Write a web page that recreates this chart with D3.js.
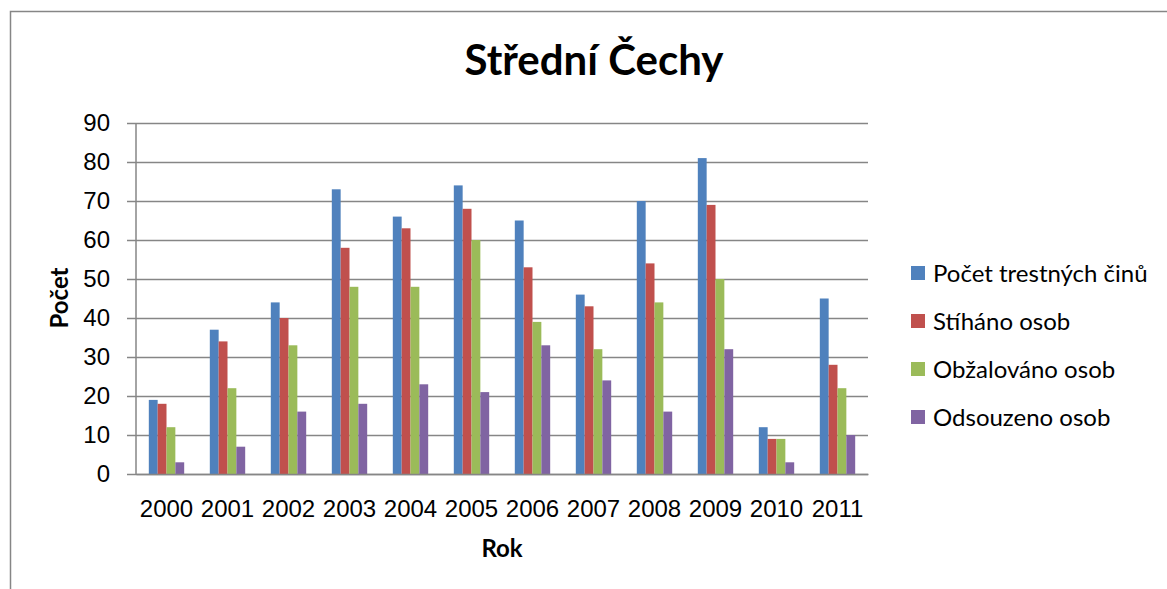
<!DOCTYPE html>
<html>
<head>
<meta charset="utf-8">
<script src="https://cdn.jsdelivr.net/npm/d3@7"></script>
<style>
  body { margin: 0; background: #fff; }
  svg { font-family: Lato, "Open Sans", sans-serif; }
</style>
</head>
<body>
<div id="chart"></div>
<script>
// data
const years = ["2000", "2001", "2002", "2003", "2004", "2005", "2006", "2007", "2008", "2009", "2010", "2011"];
const seriesNames = ["Počet trestných činů", "Stíháno osob", "Obžalováno osob", "Odsouzeno osob"];
const pocetCinu = [19, 37, 44, 73, 66, 74, 65, 46, 70, 81, 12, 45];
const stihano = [18, 34, 40, 58, 63, 68, 53, 43, 54, 69, 9, 28];
const obzalovano = [12, 22, 33, 48, 48, 60, 39, 32, 44, 50, 9, 22];
const odsouzeno = [3, 7, 16, 18, 23, 21, 33, 24, 16, 32, 3, 10];
const yTicks = [0, 10, 20, 30, 40, 50, 60, 70, 80, 90];
const colors = ["#4F81BD", "#C0504D", "#9BBB59", "#8064A2"];

const allSeries = [pocetCinu, stihano, obzalovano, odsouzeno];

const width = 1167, height = 589;
const plotLeft = 136, plotRight = 868, plotTop = 123, plotBottom = 474;

const svg = d3.select("#chart").append("svg")
  .attr("width", width)
  .attr("height", height);

// chart frame
svg.append("rect")
  .attr("x", 10.5).attr("y", 11.5)
  .attr("width", 1170).attr("height", 600)
  .attr("fill", "#fff")
  .attr("stroke", "#868686")
  .attr("stroke-width", 1.5);

const x = d3.scaleBand()
  .domain(years)
  .range([plotLeft, plotRight])
  .paddingInner(0.42)
  .paddingOuter(0.21);

const xs = d3.scaleBand()
  .domain(d3.range(4))
  .range([0, x.bandwidth()]);

const y = d3.scaleLinear()
  .domain([0, 90])
  .range([plotBottom, plotTop]);

// gridlines + y axis
const yAxis = d3.axisLeft(y)
  .tickValues(yTicks)
  .tickSize(-(plotRight - plotLeft))
  .tickSizeOuter(0)
  .tickPadding(26);

const gy = svg.append("g")
  .attr("transform", `translate(${plotLeft},0)`)
  .call(yAxis);
gy.select(".domain").remove();
gy.selectAll(".tick line")
  .attr("x1", -9)
  .attr("stroke", "#868686")
  .attr("stroke-width", 1.5);
gy.selectAll(".tick text")
  .attr("font-size", 24)
  .attr("fill", "#000");

// y axis line
svg.append("line")
  .attr("x1", plotLeft).attr("x2", plotLeft)
  .attr("y1", plotTop).attr("y2", plotBottom)
  .attr("stroke", "#868686")
  .attr("stroke-width", 1.5);

// bars
const groups = svg.append("g").selectAll("g")
  .data(years)
  .join("g")
  .attr("transform", d => `translate(${x(d)},0)`);

groups.selectAll("rect")
  .data((d, i) => allSeries.map((s, k) => ({ k: k, v: s[i] })))
  .join("rect")
  .attr("x", d => xs(d.k))
  .attr("width", xs.bandwidth())
  .attr("y", d => y(d.v))
  .attr("height", d => y(0) - y(d.v))
  .attr("fill", d => colors[d.k]);

// x axis
const xAxis = d3.axisBottom(x).tickSize(0).tickPadding(26);
const gx = svg.append("g")
  .attr("transform", `translate(0,${plotBottom})`)
  .call(xAxis);
gx.select(".domain")
  .attr("stroke", "#868686")
  .attr("stroke-width", 1.5);
gx.selectAll(".tick text")
  .attr("font-size", 24)
  .attr("fill", "#000");

// titles
svg.append("text")
  .attr("x", 594).attr("y", 75)
  .attr("text-anchor", "middle")
  .attr("font-size", 42)
  .attr("font-weight", "bold")
  .text("Střední Čechy");

svg.append("text")
  .attr("x", 502).attr("y", 557)
  .attr("text-anchor", "middle")
  .attr("font-size", 24)
  .attr("font-weight", "bold")
  .text("Rok");

svg.append("text")
  .attr("transform", "translate(68,298) rotate(-90)")
  .attr("text-anchor", "middle")
  .attr("font-size", 24)
  .attr("font-weight", "bold")
  .text("Počet");

// legend
const legend = svg.append("g")
  .attr("transform", "translate(911,266)")
  .selectAll("g")
  .data(seriesNames)
  .join("g")
  .attr("transform", (d, i) => `translate(0,${i * 48})`);

legend.append("rect")
  .attr("width", 14).attr("height", 14)
  .attr("fill", (d, i) => colors[i]);

legend.append("text")
  .attr("x", 22).attr("y", 16)
  .attr("font-size", 24)
  .text(d => d);
</script>
</body>
</html>
